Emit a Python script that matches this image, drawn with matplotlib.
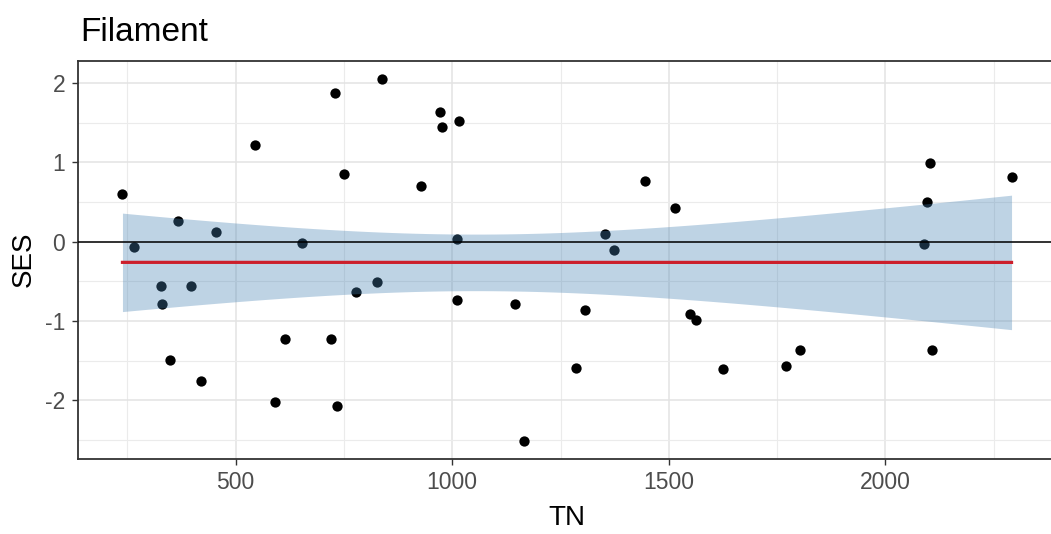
import numpy as np
import matplotlib
matplotlib.use("Agg")
import matplotlib.pyplot as plt
from matplotlib.ticker import MultipleLocator

plt.rcParams['font.family'] = ['Liberation Sans', 'DejaVu Sans']
plt.rcParams['axes.unicode_minus'] = False

# ---- data ----
tn = [239, 265, 327, 331, 349, 368, 398, 420, 456, 544, 592, 615, 653, 720,
      729, 734, 751, 777, 827, 838, 928, 971, 977, 1011, 1012, 1016, 1144,
      1166, 1285, 1307, 1352, 1373, 1445, 1515, 1549, 1563, 1625, 1771, 1802,
      2089, 2097, 2102, 2107, 2291]
ses = [0.60, -0.06, -0.56, -0.79, -1.49, 0.26, -0.56, -1.76, 0.12, 1.22,
       -2.02, -1.23, -0.01, -1.23, 1.88, -2.07, 0.86, -0.63, -0.51, 2.05,
       0.70, 1.64, 1.44, -0.74, 0.04, 1.52, -0.79, -2.51, -1.59, -0.86,
       0.10, -0.10, 0.76, 0.43, -0.91, -0.99, -1.61, -1.57, -1.37, -0.03,
       0.50, 0.99, -1.37, 0.81]
x_ticks = [500, 1000, 1500, 2000]
y_ticks = [-2, -1, 0, 1, 2]
title = "Filament"
x_label = "TN"
y_label = "SES"

x = np.array(tn, dtype=float)
y = np.array(ses, dtype=float)

# linear model fit + 95% CI (like geom_smooth(method="lm"))
n = len(x)
b1, b0 = np.polyfit(x, y, 1)
resid = y - (b0 + b1 * x)
s = np.sqrt(np.sum(resid ** 2) / (n - 2))
sxx = np.sum((x - x.mean()) ** 2)
t_crit = 2.018  # t(0.975, df=42)
xf = np.linspace(x.min(), x.max(), 80)
yf = b0 + b1 * xf
se = s * np.sqrt(1.0 / n + (xf - x.mean()) ** 2 / sxx)
lo, hi = yf - t_crit * se, yf + t_crit * se

W, H = 1051, 534
fig = plt.figure(figsize=(W / 100, H / 100), dpi=100)
ax = fig.add_axes([78 / W, (H - 459) / H, (1056 - 78) / W, (459 - 61) / H])

xr = x.max() - x.min()
yr = y.max() - y.min()
ax.set_xlim(x.min() - 0.05 * xr, x.max() + 0.05 * xr)
ax.set_ylim(y.min() - 0.05 * yr, y.max() + 0.05 * yr)

ax.set_xticks(x_ticks)
ax.set_yticks(y_ticks)
ax.xaxis.set_minor_locator(MultipleLocator(250))
ax.yaxis.set_minor_locator(MultipleLocator(0.5))
ax.grid(which='major', color='#e3e3e3', lw=1.1, zorder=0)
ax.grid(which='minor', color='#ebebeb', lw=0.8, zorder=0)
ax.set_axisbelow(True)

ax.scatter(x, y, s=55, color='black', zorder=2, linewidths=0)
ax.fill_between(xf, lo, hi, color='steelblue', alpha=0.35, lw=0, zorder=3)
ax.plot(xf, yf, color='#cc1f2b', lw=2.3, zorder=4)
ax.axhline(0, color='black', lw=1.1, zorder=5)

for sp in ax.spines.values():
    sp.set_color('#333333')
    sp.set_linewidth(1.3)

ax.tick_params(axis='both', which='major', length=4.3, width=1.0, color='#333333',
               labelcolor='#4d4d4d', labelsize=16.5)
ax.tick_params(axis='x', pad=4)
ax.tick_params(axis='y', pad=5)
ax.tick_params(which='minor', length=0)

fig.text(80 / W, (H - 40.7) / H, title, fontsize=24, color='black',
         ha='left', va='baseline')
fig.text(567 / W, (H - 525) / H, x_label, fontsize=20, color='black',
         ha='center', va='baseline')
fig.text(24 / W, (H - 259) / H, y_label, fontsize=20, color='black',
         ha='center', va='center', rotation=90)

fig.savefig('out.png', dpi=100)
